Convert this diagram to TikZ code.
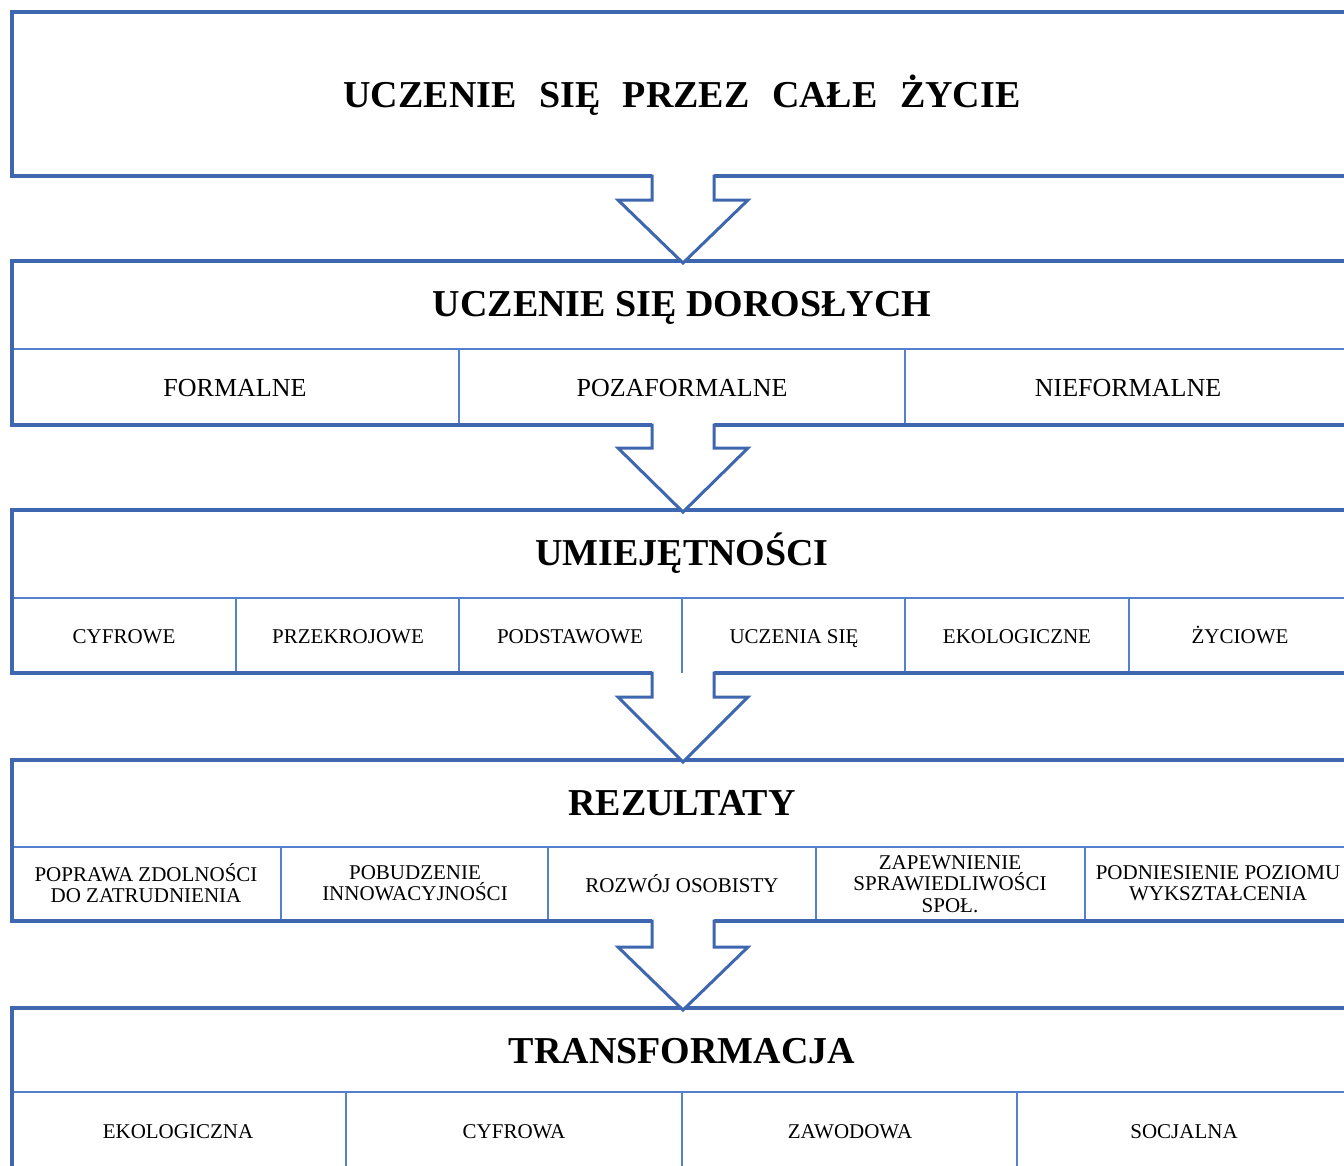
\documentclass[tikz,border=0pt]{standalone}
\usepackage{fontspec}
\setmainfont{Liberation Serif}
\definecolor{outerblue}{RGB}{62,103,176}
\definecolor{innerblue}{RGB}{84,128,206}
\begin{document}
\begin{tikzpicture}[x=1pt,y=-1pt,
  frame/.style={draw=outerblue,line width=3.5pt},
  divider/.style={draw=innerblue,line width=2pt},
  bigarrow/.style={draw=outerblue,line width=3pt,line join=miter},
  ttl/.style={font=\fontsize{38}{38}\selectfont\bfseries,inner sep=0pt,anchor=base},
  subbig/.style={font=\fontsize{26}{26}\selectfont,inner sep=0pt,anchor=base},
  sub/.style={font=\fontsize{21}{21.5}\selectfont,inner sep=0pt,align=center,anchor=base},
  subml/.style={font=\fontsize{21}{21.5}\selectfont,inner sep=0pt,align=center,anchor=center}]
\useasboundingbox (0,0) rectangle (1344,1165);
\clip (0,0) rectangle (1344,1165);

% ---------- box 1 ----------
\draw[frame] (12,12) rectangle (1354,176);
\node[ttl] (t1) at (682,107) {UCZENIE\hspace{22.5pt}SIĘ\hspace{22.5pt}PRZEZ\hspace{22.5pt}CAŁE\hspace{22.5pt}ŻYCIE};

% ---------- box 2 ----------
\draw[divider] (12,349) -- (1354,349);
\draw[divider] (459,349) -- (459,425);
\draw[divider] (905,349) -- (905,425);
\draw[frame] (12,261) rectangle (1354,425);
\node[ttl] (t2) at (682,316) {UCZENIE SIĘ DOROSŁYCH};
\node[subbig] (f1) at (235,396) {FORMALNE};
\node[subbig] (f2) at (682,396) {POZAFORMALNE};
\node[subbig] (f3) at (1128,396) {NIEFORMALNE};

% ---------- box 3 ----------
\draw[divider] (12,598) -- (1354,598);
\foreach \x in {236,459,905,1129} \draw[divider] (\x,598) -- (\x,673);
\draw[frame] (12,510) rectangle (1354,673);
\node[ttl] (t3) at (682,565) {UMIEJĘTNOŚCI};
\node[sub] (u1) at (124,643) {CYFROWE};
\node[sub] (u2) at (348,643) {PRZEKROJOWE};
\node[sub] (u3) at (570,643) {PODSTAWOWE};
\node[sub] (u4) at (794,643) {UCZENIA SIĘ};
\node[sub] (u5) at (1017,643) {EKOLOGICZNE};
\node[sub] (u6) at (1240,643) {ŻYCIOWE};

% ---------- box 4 ----------
\draw[divider] (12,847) -- (1354,847);
\foreach \x in {281,548,816,1085} \draw[divider] (\x,847) -- (\x,921);
\draw[frame] (12,760) rectangle (1354,921);
\node[ttl] (t4) at (682,815) {REZULTATY};
\node[subml] (r1) at (146,883) {POPRAWA ZDOLNOŚCI\\DO ZATRUDNIENIA};
\node[subml] (r2) at (415,883) {POBUDZENIE\\INNOWACYJNOŚCI};
\node[sub] (r3) at (682,892) {ROZWÓJ OSOBISTY};
\node[subml] (r4) at (950,884) {ZAPEWNIENIE\\SPRAWIEDLIWOŚCI\\SPOŁ.};
\node[subml] (r5) at (1218,883) {PODNIESIENIE POZIOMU\\WYKSZTAŁCENIA};

% ---------- box 5 ----------
\draw[divider] (12,1092) -- (1354,1092);
\foreach \x in {346,682,1017} \draw[divider] (\x,1092) -- (\x,1200);
\draw[frame] (12,1008) rectangle (1354,1260);
\node[ttl] (t5) at (682,1063) {TRANSFORMACJA};
\node[sub] (s1) at (178,1138) {EKOLOGICZNA};
\node[sub] (s2) at (514,1138) {CYFROWA};
\node[sub] (s3) at (850,1138) {ZAWODOWA};
\node[sub] (s4) at (1184,1138) {SOCJALNA};

% ---------- block arrows ----------
\foreach \top/\wing/\tip in {176/200/263, 425/448/512, 673/697/762, 921/947/1010}{
  \fill[white] (652,\top-2) -- (652,\wing) -- (618,\wing) -- (683,\tip) -- (748,\wing) -- (714,\wing) -- (714,\top-2) -- cycle;
  \draw[bigarrow] (652,\top-1.5) -- (652,\wing) -- (618,\wing) -- (683,\tip) -- (748,\wing) -- (714,\wing) -- (714,\top-1.5);
}
% middle divider of the skills row, reaching the bottom edge
\draw[divider] (682,598) -- (682,673);
\end{tikzpicture}
\end{document}
